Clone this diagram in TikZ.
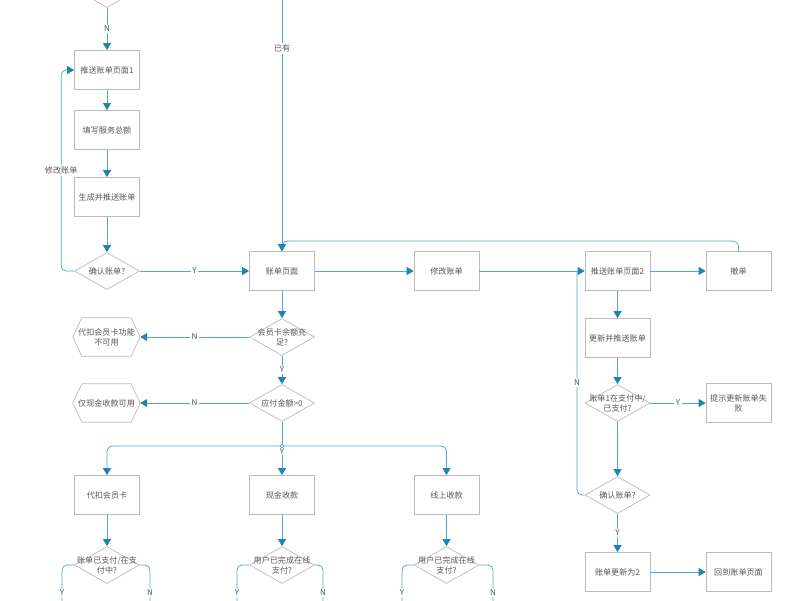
\documentclass[tikz,border=0pt]{standalone}
\usepackage{fontspec}
\setmainfont{Noto Sans CJK SC}
\usetikzlibrary{arrows.meta,shapes.geometric}
\definecolor{ln}{HTML}{4FAAD0}
\definecolor{tipc}{HTML}{1C86AF}
\definecolor{bd}{HTML}{BBBBBB}
\definecolor{tx}{HTML}{555555}
\tikzset{
  x=1pt, y=-1pt,
  ft/.style={font=\fontsize{8.1}{10}\selectfont, text=tx},
  box/.style={draw=bd, line width=0.7pt, minimum width=65pt, minimum height=39pt, inner sep=1pt, align=center, ft},
  dia/.style={draw=bd, diamond, line width=0.7pt, minimum width=65pt, minimum height=37pt, inner sep=0pt},
  dtxt/.style={ft, align=center, inner sep=0pt},
  hexnode/.style={minimum width=67pt, minimum height=38pt, inner sep=0pt, align=center, ft},
  line/.style={draw=ln, line width=0.8pt},
  arr/.style={line, -{Triangle[length=7pt,width=8pt,color=tipc]}},
  lbl/.style={fill=white, ft, inner sep=1.5pt},
}
\newcommand{\hexdraw}[1]{\draw[bd, line width=0.7pt] (#1.west) -- ([xshift=9pt]#1.north west) -- ([xshift=-9pt]#1.north east) -- (#1.east) -- ([xshift=-9pt]#1.south east) -- ([xshift=9pt]#1.south west) -- cycle;}
\begin{document}
\begin{tikzpicture}
\useasboundingbox (0,0) rectangle (800,600);
% left column
\node[dia] (d0) at (107,-11) {};
\node[box] (b1) at (107,70) {推送账单页面1};
\node[box] (b2) at (107,130) {填写服务总额};
\node[box] (b3) at (107,197) {生成并推送账单};
\node[dia, label={[dtxt]center:确认账单?}] (c1) at (107,271) {};
% main row
\node[box] (z) at (282,271) {账单页面};
\node[box] (m) at (446.5,271) {修改账单};
\node[box] (p2) at (617.5,271) {推送账单页面2};
\node[box] (cd) at (738.5,271) {撤单};
% right column
\node[box] (u) at (617.5,338) {更新并推送账单};
\node[dia, label={[dtxt]center:账单1在支付中/\\已支付?}] (q) at (617.5,403) {};
\node[box] (f) at (738.5,403) {提示更新账单失\\败};
\node[dia, label={[dtxt]center:确认账单?}] (c2) at (617.5,495) {};
\node[box] (k) at (617.5,572) {账单更新为2};
\node[box] (r) at (738.5,572) {回到账单页面};
% middle column
\node[dia, label={[dtxt]center:会员卡余额充\\足?}] (d1) at (282,337) {};
\node[dia, label={[dtxt]center:应付金额>0}] (d2) at (282,403) {};
\node[hexnode] (h1) at (106.5,337) {代扣会员卡功能\\不可用};
\node[hexnode] (h2) at (106.5,403) {仅现金收款可用};
\hexdraw{h1}
\hexdraw{h2}
\coordinate (jn) at (282,446);
\node[box] (q1) at (107,495) {代扣会员卡};
\node[box] (q2) at (282,495) {现金收款};
\node[box] (q3) at (446.5,495) {线上收款};
\node[dia, label={[dtxt]center:账单已支付/在支\\付中?}] (e1) at (107,565) {};
\node[dia, label={[dtxt]center:用户已完成在线\\支付?}] (e2) at (282,565) {};
\node[dia, label={[dtxt]center:用户已完成在线\\支付?}] (e3) at (446.5,565) {};
% free ends
\coordinate (t2) at (282,-2);
\coordinate (j1) at (282,241);
\coordinate (j2) at (577,271);
\coordinate (y1) at (62,606);
\coordinate (n1) at (150,606);
\coordinate (y2) at (237,606);
\coordinate (n2) at (323,606);
\coordinate (y3) at (402,606);
\coordinate (n3) at (493,606);
% connectors
\draw[arr] (d0.south) -- node[lbl]{N} (b1.north);
\draw[arr] (b1) -- (b2);
\draw[arr] (b2) -- (b3);
\draw[arr] (b3) -- (c1);
\draw[arr, rounded corners=5pt] (c1.west) -- ++(-13,0) |- node[lbl, pos=0.25]{修改账单} (b1.west);
\draw[arr] (c1.east) -- node[lbl]{Y} (z.west);
\draw[arr] (t2) -- node[lbl, pos=0.2]{已有} (z.north);
\draw[arr, rounded corners=6pt] (cd.north) |- (j1) -- (z.north);
\draw[arr] (z) -- (m);
\draw[arr] (m) -- (p2);
\draw[arr] (p2) -- (cd);
\draw[arr] (p2) -- (u);
\draw[arr] (u) -- (q);
\draw[arr] (q.east) -- node[lbl]{Y} (f.west);
\draw[arr] (q.south) -- (c2.north);
\draw[line, rounded corners=5pt] (c2.west) -| node[lbl, pos=0.75]{N} (j2);
\draw[arr] (c2.south) -- node[lbl]{Y} (k.north);
\draw[arr] (k) -- (r);
\draw[arr] (z) -- (d1);
\draw[arr] (d1.west) -- node[lbl]{N} (h1.east);
\draw[arr] (d1.south) -- node[lbl]{Y} (d2.north);
\draw[arr] (d2.west) -- node[lbl]{N} (h2.east);
\draw[line] (d2.south) -- (jn);
\draw[arr, rounded corners=6pt] (jn) -| (q1.north);
\draw[arr, rounded corners=6pt] (jn) -| (q3.north);
\draw[arr] (jn) -- node[lbl, pos=0.2, inner sep=0.5pt]{Y} (q2.north);
\node[draw=ln, fill=white, diamond, inner sep=0pt, minimum size=4pt, line width=0.6pt] (jm) at (jn) {};
\draw[arr] (q1) -- (e1);
\draw[arr] (q2) -- (e2);
\draw[arr] (q3) -- (e3);
\draw[line, rounded corners=5pt] (e1.west) -| node[lbl, pos=0.84]{Y} (y1);
\draw[line, rounded corners=5pt] (e1.east) -| node[lbl, pos=0.84]{N} (n1);
\draw[line, rounded corners=5pt] (e2.west) -| node[lbl, pos=0.84]{Y} (y2);
\draw[line, rounded corners=5pt] (e2.east) -| node[lbl, pos=0.84]{N} (n2);
\draw[line, rounded corners=5pt] (e3.west) -| node[lbl, pos=0.84]{Y} (y3);
\draw[line, rounded corners=5pt] (e3.east) -| node[lbl, pos=0.84]{N} (n3);
\end{tikzpicture}
\end{document}
